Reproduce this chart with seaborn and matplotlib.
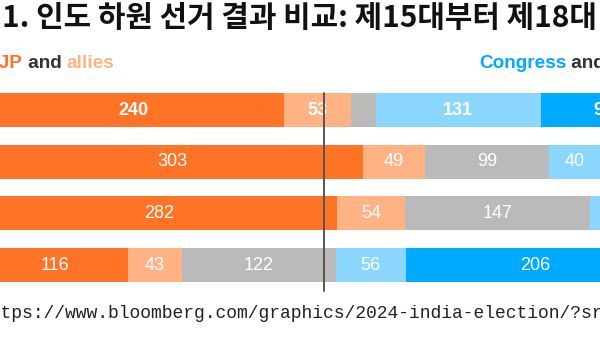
import matplotlib
matplotlib.use("Agg")
import matplotlib.pyplot as plt
import seaborn as sns
import pandas as pd
import numpy as np

# ---- data ----
elections = ["2024", "2019", "2014", "2009"]
bjp = [240, 303, 282, 116]
bjp_allies = [53, 49, 54, 43]
others = [20, 99, 147, 122]
congress_allies = [131, 40, 16, 56]
congress = [99, 52, 44, 206]
majority_mark = 272
total_seats = 543

series_names = ["BJP", "BJP allies", "Others", "Congress allies", "Congress"]
series_values = [bjp, bjp_allies, others, congress_allies, congress]
colors = ["#ff7326", "#ffb385", "#bababa", "#8bd6fe", "#00aaff"]

title = "1. 인도 하원 선거 결과 비교: 제15대부터 제18대"
source = "https://www.bloomberg.com/graphics/2024-india-election/?sr"

sns.set_theme(style="white")
plt.rcParams['font.family'] = ['Liberation Sans', 'DejaVu Sans']

W, H = 600, 338
fig = plt.figure(figsize=(W / 100, H / 100), dpi=100)
fig.patch.set_facecolor("white")

# axes placed in pixels (the reference is a cropped screenshot)
x0_px, px_per_seat = -17.9, 1.258
top_px, bot_px = 84.2, 290.9
ax = fig.add_axes([x0_px / W, (H - bot_px) / H,
                   total_seats * px_per_seat / W, (bot_px - top_px) / H])

# cumulative stacks
rows = []
cum = np.zeros(len(elections))
for name, vals in zip(series_names, series_values):
    start = cum.copy()
    cum = cum + np.array(vals)
    for e, s, v, c in zip(elections, start, vals, cum):
        rows.append({"election": e, "series": name, "start": s, "value": v, "cum": c})
df = pd.DataFrame(rows)

for name, col in reversed(list(zip(series_names, colors))):
    sub = df[df["series"] == name]
    sns.barplot(data=sub, x="cum", y="election", order=elections, orient="h",
                color=col, saturation=1, width=0.66, linewidth=0, ax=ax)

# value labels
for i, e in enumerate(elections):
    for _, r in df[df["election"] == e].iterrows():
        if r["value"] >= 25:
            ax.text(r["start"] + r["value"] / 2, i, str(int(r["value"])),
                    ha="center", va="center", color="white", fontsize=13,
                    fontweight="bold" if i == 0 else "normal", clip_on=False)

# majority line
ax.plot([majority_mark, majority_mark], [-0.33, 3.5], color="#555555", lw=1.4,
        zorder=5, clip_on=False)

ax.set_xlim(0, total_seats)
ax.set_ylim(3.5, -0.5)
ax.axis("off")

# title
fig.text(2 / W, 1 - 18 / H, title, fontsize=21.5, fontweight="bold",
         family=["Noto Sans CJK KR", "DejaVu Sans"], va="center", ha="left",
         color="#111111")

# legend-like headers
t1 = fig.text(-14 / W, 1 - 64 / H, "BJP", color="#ff7326", fontsize=13.7,
              fontweight="bold", va="center", ha="left")
t2 = fig.text(0, 0, " and ", color="#333333", fontsize=13.7, fontweight="bold",
              va="center", ha="left")
t3 = fig.text(0, 0, "allies", color="#ffb385", fontsize=13.7, fontweight="bold",
              va="center", ha="left")
fig.canvas.draw()
r = fig.canvas.get_renderer()
bb1 = t1.get_window_extent(r)
t2.set_position((bb1.x1 / W, 1 - 64 / H))
bb2 = t2.get_window_extent(r)
t3.set_position((bb2.x1 / W, 1 - 64 / H))

c1 = fig.text(479 / W, 1 - 64 / H, "Congress", color="#00aaff", fontsize=13.7,
              fontweight="bold", va="center", ha="left")
bbc = c1.get_window_extent(r)
fig.text(bbc.x1 / W, 1 - 64 / H, " and allies", color="#333333", fontsize=13.7,
         fontweight="bold", va="center", ha="left")

# source line
fig.text(-21 / W, 1 - 313 / H, source, family=["Liberation Mono", "DejaVu Sans Mono"],
         fontsize=13, color="#222222", va="center", ha="left")

fig.savefig("out.png", dpi=100, facecolor="white")
